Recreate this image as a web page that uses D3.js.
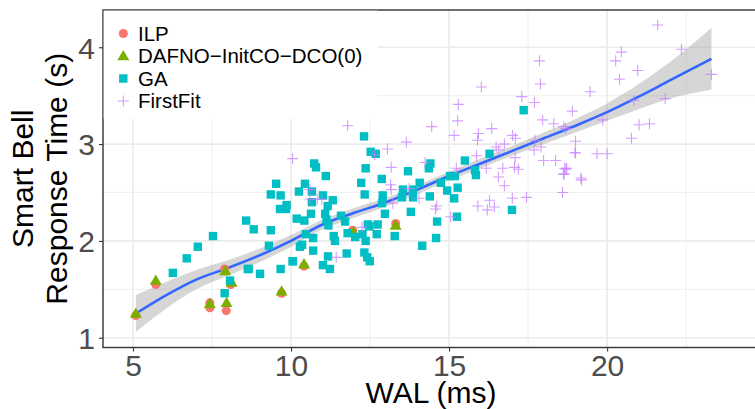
<!DOCTYPE html>
<html><head><meta charset="utf-8">
<script src="https://cdn.jsdelivr.net/npm/d3@7"></script>
<style>body{margin:0;background:#fff}svg{display:block}</style>
</head><body><svg id="c" width="755" height="409"></svg>
<script>
const seriesNames = ["ILP", "DAFNO\u2212InitCO\u2212DCO(0)", "GA", "FirstFit"];
const seriesColors = ["#F8766D", "#7CAE00", "#00BFC4", "#C77CFF"];
const xTicks = [5, 10, 15, 20];
const yTicks = [1, 2, 3, 4];

const ilp = [[5.09,1.23],[5.72,1.55],[7.43,1.36],[7.43,1.31],[7.90,1.71],[7.95,1.28],[8.09,1.55],[9.70,1.46],[10.41,1.74],[11.95,2.11],[13.31,2.18]];
const dafno = [[5.09,1.25],[5.72,1.59],[7.43,1.35],[7.92,1.69],[7.96,1.36],[8.12,1.57],[9.70,1.48],[10.41,1.76],[11.97,2.09],[13.31,2.16]];
const ga = [[6.26,1.67],[6.70,1.82],[7.05,1.94],[7.53,2.05],[8.58,2.21],[8.63,1.71],[8.07,1.59],[7.90,1.46],
[10.05,1.79],[10.28,1.94],[9.30,1.95],[9.02,1.66],[9.67,1.71],
[12.31,3.08],[12.52,2.92],[12.68,2.90],[10.73,2.80],[10.79,2.76],[11.10,2.67],[12.36,2.75],[12.87,2.64],[12.22,2.60],
[9.53,2.59],[10.44,2.59],[9.36,2.48],[9.67,2.47],[10.25,2.51],[10.66,2.51],[11.01,2.47],[10.66,2.40],[11.32,2.42],
[12.33,2.48],[12.90,2.47],[9.65,2.33],[9.84,2.33],[9.86,2.37],[11.16,2.36],[11.08,2.28],[10.63,2.28],[12.88,2.39],
[12.97,2.28],[10.18,2.23],[10.42,2.21],[11.12,2.22],[11.18,2.16],[11.58,2.26],[11.71,2.20],[8.82,2.12],[9.36,2.11],
[10.47,2.07],[10.70,2.03],[11.35,2.05],[11.39,2.00],[11.79,2.08],[12.03,2.04],[12.26,2.07],[12.36,2.00],[12.43,2.17],
[12.48,2.15],[12.74,2.17],[12.71,2.07],[13.28,2.05],[10.35,1.96],[10.70,1.90],[11.17,1.84],[11.76,1.87],[12.32,1.88],
[12.41,1.83],[12.49,1.79],[11.01,1.75],[11.23,1.71],[10.06,1.79],[8.66,1.71],
[17.36,3.35],[16.28,2.90],[15.50,2.83],[15.82,2.73],[15.85,2.68],[15.03,2.67],[15.18,2.67],[14.41,2.80],[14.36,2.75],
[13.70,2.72],[14.74,2.60],[14.07,2.60],[13.86,2.53],[13.54,2.53],[15.27,2.55],[14.94,2.52],[13.51,2.45],[13.86,2.45],
[14.39,2.46],[15.16,2.44],[13.79,2.30],[16.99,2.32],[15.25,2.25],[14.62,2.20],[14.59,2.03],[14.15,1.95]];
const firstFit = [[11.79,3.19],[10.05,2.85],[13.05,2.95],[12.64,2.89],[13.17,2.76],[13.15,2.58],[13.17,2.53],[10.60,2.53],
[10.60,2.43],[10.83,2.43],[10.97,2.43],[13.22,2.39],[12.25,2.14],[11.43,1.83],
[16.02,3.59],[17.89,3.62],[17.30,3.49],[17.70,3.43],[18.90,3.34],[15.29,3.41],[15.27,3.24],[17.96,3.25],[14.45,3.18],
[18.31,3.21],[18.63,3.18],[16.35,3.16],[15.16,3.09],[15.93,3.11],[15.90,3.04],[17.01,3.09],[17.10,3.06],[13.65,3.02],
[16.49,2.97],[16.75,3.00],[16.57,2.94],[17.72,3.04],[17.91,2.97],[17.69,2.94],[19.00,3.03],[18.98,2.91],[15.87,2.88],
[17.09,2.86],[17.99,2.83],[18.37,2.83],[18.72,2.75],[18.62,2.69],[14.24,2.81],[15.23,2.75],[16.18,2.75],[16.70,2.75],
[17.07,2.76],[17.19,2.74],[16.56,2.66],[16.75,2.57],[18.59,2.50],[14.05,2.44],[14.61,2.36],[14.57,2.33],[15.91,2.36],
[16.28,2.42],[16.43,2.35],[16.21,2.32],[17.00,2.44],[17.45,2.45],[15.05,2.25],[13.74,2.54],
[17.86,3.86],[21.60,4.23],[22.35,3.98],[20.45,3.95],[20.27,3.86],[20.97,3.76],[20.39,3.67],[23.30,3.72],[19.46,3.54],
[21.84,3.47],[20.84,3.45],[19.86,3.25],[21.01,3.20],[21.34,3.21],[18.69,3.16],[20.77,3.06],[19.00,2.91],[19.68,2.90],
[20.00,2.90],[18.66,2.75],[19.17,2.65],[18.70,2.74],[18.64,2.69],[19.19,2.63]];

const smoothX = [5.09, 6, 7, 8, 9, 10, 11, 12, 13, 14, 15, 16, 17, 18, 19, 20, 21, 22, 23.3];
const smoothY = [1.25, 1.43, 1.60, 1.72, 1.85, 2.00, 2.17, 2.29, 2.40, 2.53, 2.67, 2.80, 2.93, 3.06, 3.19, 3.33, 3.49, 3.66, 3.88];
const smoothSE = [0.19, 0.14, 0.10, 0.08, 0.07, 0.06, 0.05, 0.05, 0.045, 0.045, 0.045, 0.05, 0.05, 0.06, 0.07, 0.09, 0.13, 0.19, 0.32];

const L = 103, T = 10, R = 756, B = 347.5;
const x = d3.scaleLinear().domain([4.051, 24.71]).range([L, R]);
const y = d3.scaleLinear().domain([0.899, 4.385]).range([B, T]);
const svg = d3.select("#c");
const font = "'Liberation Sans', Arial, Helvetica, sans-serif";

// grid
const g = svg.append("g");
const xMinor = [7.5, 12.5, 17.5, 22.5], yMinor = [1.5, 2.5, 3.5];
g.selectAll(".xm").data(xMinor).join("line").attr("x1", d=>x(d)).attr("x2", d=>x(d)).attr("y1", T).attr("y2", B).attr("stroke", "#ebebeb").attr("stroke-width", 0.8);
g.selectAll(".ym").data(yMinor).join("line").attr("y1", d=>y(d)).attr("y2", d=>y(d)).attr("x1", L).attr("x2", R).attr("stroke", "#ebebeb").attr("stroke-width", 0.8);
g.selectAll(".xM").data(xTicks).join("line").attr("x1", d=>x(d)).attr("x2", d=>x(d)).attr("y1", T).attr("y2", B).attr("stroke", "#ebebeb").attr("stroke-width", 1.6);
g.selectAll(".yM").data(yTicks).join("line").attr("y1", d=>y(d)).attr("y2", d=>y(d)).attr("x1", L).attr("x2", R).attr("stroke", "#ebebeb").attr("stroke-width", 1.6);

// smooth
const sm = smoothX.map((d,i)=>({x:d, y:smoothY[i], se:smoothSE[i]}));
svg.append("path").datum(sm)
  .attr("d", d3.area().curve(d3.curveMonotoneX).x(d=>x(d.x)).y0(d=>y(d.y-d.se)).y1(d=>y(d.y+d.se)))
  .attr("fill", "#999999").attr("fill-opacity", 0.4);
svg.append("path").datum(sm)
  .attr("d", d3.line().curve(d3.curveMonotoneX).x(d=>x(d.x)).y(d=>y(d.y)))
  .attr("fill", "none").attr("stroke", "#3366FF").attr("stroke-width", 2.6);

// points
const circ = d3.symbol().type(d3.symbolCircle).size(64);
const tri = d3.symbol().type(d3.symbolTriangle).size(62);
function plus(s){ return `M${-s},0H${s}M0,${-s}V${s}`; }
svg.append("g").selectAll("path").data(ilp).join("path")
  .attr("d", circ).attr("transform", d=>`translate(${x(d[0])},${y(d[1])})`).attr("fill", seriesColors[0]);
svg.append("g").selectAll("path").data(dafno).join("path")
  .attr("d", tri).attr("transform", d=>`translate(${x(d[0])},${y(d[1])+0.8})`).attr("fill", seriesColors[1]);
svg.append("g").selectAll("rect").data(ga).join("rect")
  .attr("x", d=>x(d[0])-4.2).attr("y", d=>y(d[1])-4.2).attr("width", 8.4).attr("height", 8.4).attr("fill", seriesColors[2]);
svg.append("g").selectAll("path").data(firstFit).join("path")
  .attr("d", plus(5.5)).attr("transform", d=>`translate(${x(d[0])},${y(d[1])})`)
  .attr("fill", "none").attr("stroke", seriesColors[3]).attr("stroke-opacity", 0.75).attr("stroke-width", 1.1);

// panel border
svg.append("rect").attr("x", L).attr("y", T).attr("width", R-L).attr("height", B-T)
  .attr("fill", "none").attr("stroke", "#333333").attr("stroke-width", 1.4);

// axes
const xAxis = d3.axisBottom(x).tickValues(xTicks).tickSize(4).tickPadding(4).tickFormat(d3.format("d"));
const yAxis = d3.axisLeft(y).tickValues(yTicks).tickSize(4).tickPadding(4).tickFormat(d3.format("d"));
const gx = svg.append("g").attr("transform", `translate(0,${B})`).call(xAxis);
const gy = svg.append("g").attr("transform", `translate(${L},0)`).call(yAxis);
[gx, gy].forEach(a => {
  a.select(".domain").remove();
  a.selectAll(".tick line").attr("stroke", "#333333").attr("stroke-width", 1.1);
  a.selectAll(".tick text").attr("fill", "#4d4d4d").style("font-family", font).style("font-size", "30px");
});
gx.selectAll(".tick text").attr("dy", "0.68em");
gy.selectAll(".tick text").attr("dy", "0.36em");

// titles
svg.append("text").attr("x", 431).attr("y", 403).attr("text-anchor", "middle")
  .style("font-family", font).style("font-size", "30px").attr("fill", "#000").text("WAL (ms)");
const yt = svg.append("text").attr("transform", `translate(0,${(T+B)/2}) rotate(-90)`).attr("text-anchor", "middle")
  .style("font-family", font).style("font-size", "30px").attr("fill", "#000");
yt.append("tspan").attr("x", 0).attr("y", 33).text("Smart Bell");
yt.append("tspan").attr("x", 0).attr("y", 67).text("Response Time (s)");

// legend
const lg = svg.append("g");
lg.append("rect").attr("x", L+0.7).attr("y", T+0.7).attr("width", 274).attr("height", 108).attr("fill", "#fff");
const ly = [33.5, 56, 78.5, 101];
lg.append("path").attr("d", circ).attr("transform", `translate(123.3,${ly[0]})`).attr("fill", seriesColors[0]);
lg.append("path").attr("d", tri).attr("transform", `translate(123.3,${ly[1]+0.8})`).attr("fill", seriesColors[1]);
lg.append("rect").attr("x", 123.3-4.2).attr("y", ly[2]-4.2).attr("width", 8.4).attr("height", 8.4).attr("fill", seriesColors[2]);
lg.append("path").attr("d", plus(5.5)).attr("transform", `translate(123.3,${ly[3]})`).attr("fill", "none")
  .attr("stroke", seriesColors[3]).attr("stroke-opacity", 0.75).attr("stroke-width", 1.1);
lg.selectAll("text").data(seriesNames).join("text").attr("x", 138).attr("y", (d,i)=>ly[i]).attr("dy", "0.36em")
  .style("font-family", font).style("font-size", "20.5px").attr("fill", "#000").text(d=>d);
</script></body></html>
